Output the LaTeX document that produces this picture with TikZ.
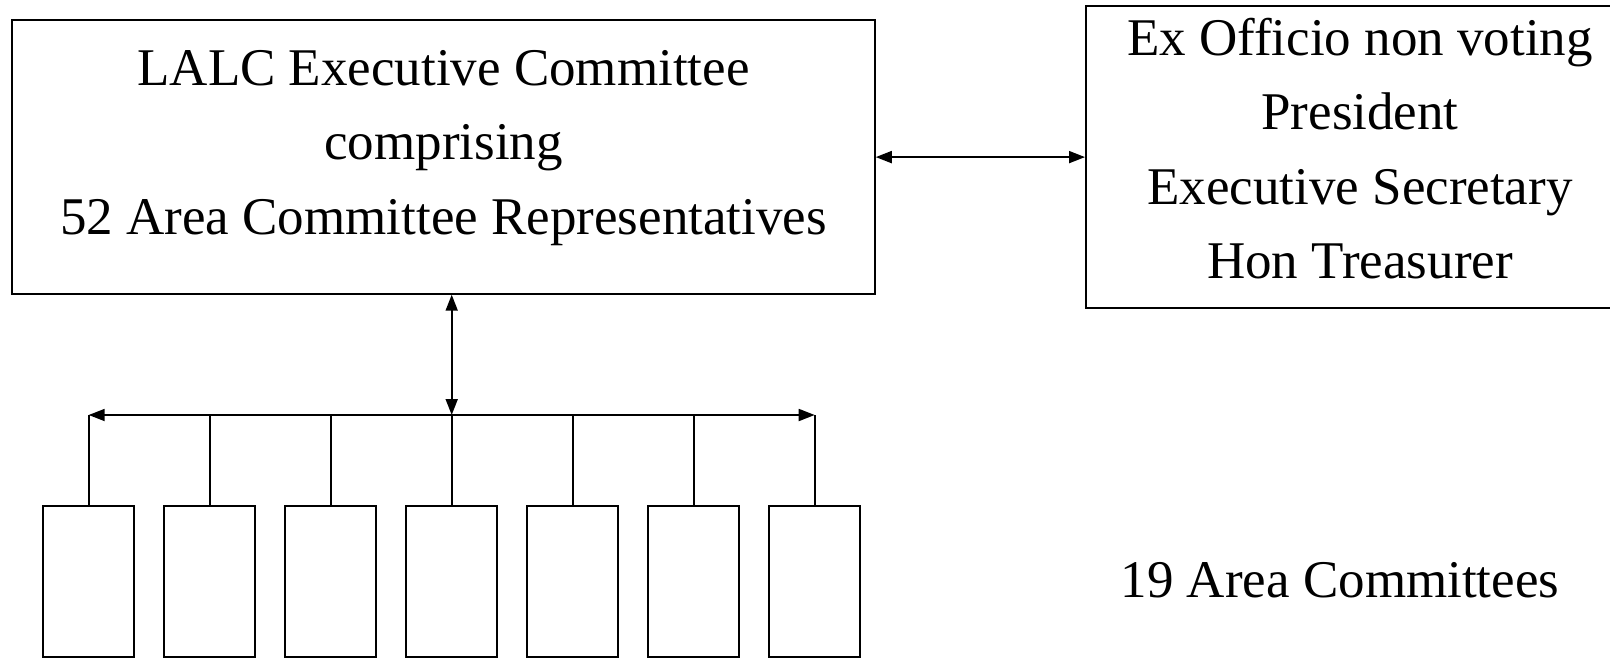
\documentclass[tikz,border=0pt]{standalone}
\usepackage{fontspec}
\setmainfont{Liberation Serif}
\usetikzlibrary{arrows.meta,positioning}

\begin{document}
\begin{tikzpicture}[x=0.5pt, y=-0.5pt, >={Triangle[length=8pt,width=6pt]},
    box/.style={draw, line width=1pt, inner sep=0pt, align=center,
      font=\fontsize{26.5}{37.25}\selectfont},
    areabox/.style={draw, line width=1pt, minimum width=45.5pt, minimum height=75.5pt}]
    \useasboundingbox (0,0) rectangle (1610,658);
    \node[box, minimum width=431.25pt, minimum height=136.6pt, text depth=15pt] (Exec) at (443.5,157.1)
      {LALC Executive Committee\\comprising\\52 Area Committee Representatives};
    \node[box, minimum width=274pt, minimum height=151pt, text depth=9pt] (Officio) at (1360,157.1)
      {Ex Officio non voting\\President\\Executive Secretary\\Hon Treasurer};
    \node[font=\fontsize{26.5}{37.25}\selectfont, anchor=base] (label) at (1340,597) {19 Area Committees};
    \foreach \i in {1,...,7}
      \node[areabox] (area\i) at ({88.7+121*(\i-1)},581.2) {};
    \coordinate (bus) at (0,415);
    \path[<->, line width=0.9pt]
      (Exec.east) edge (Officio.west)
      (Exec.south -| area4.north) edge (area4.north |- bus)
      (area1.north |- bus) edge (area7.north |- bus);
    \foreach \i in {1,...,7}
      \draw[line width=0.9pt] (area\i.north) -- (area\i.north |- bus);
\end{tikzpicture}
\end{document}
